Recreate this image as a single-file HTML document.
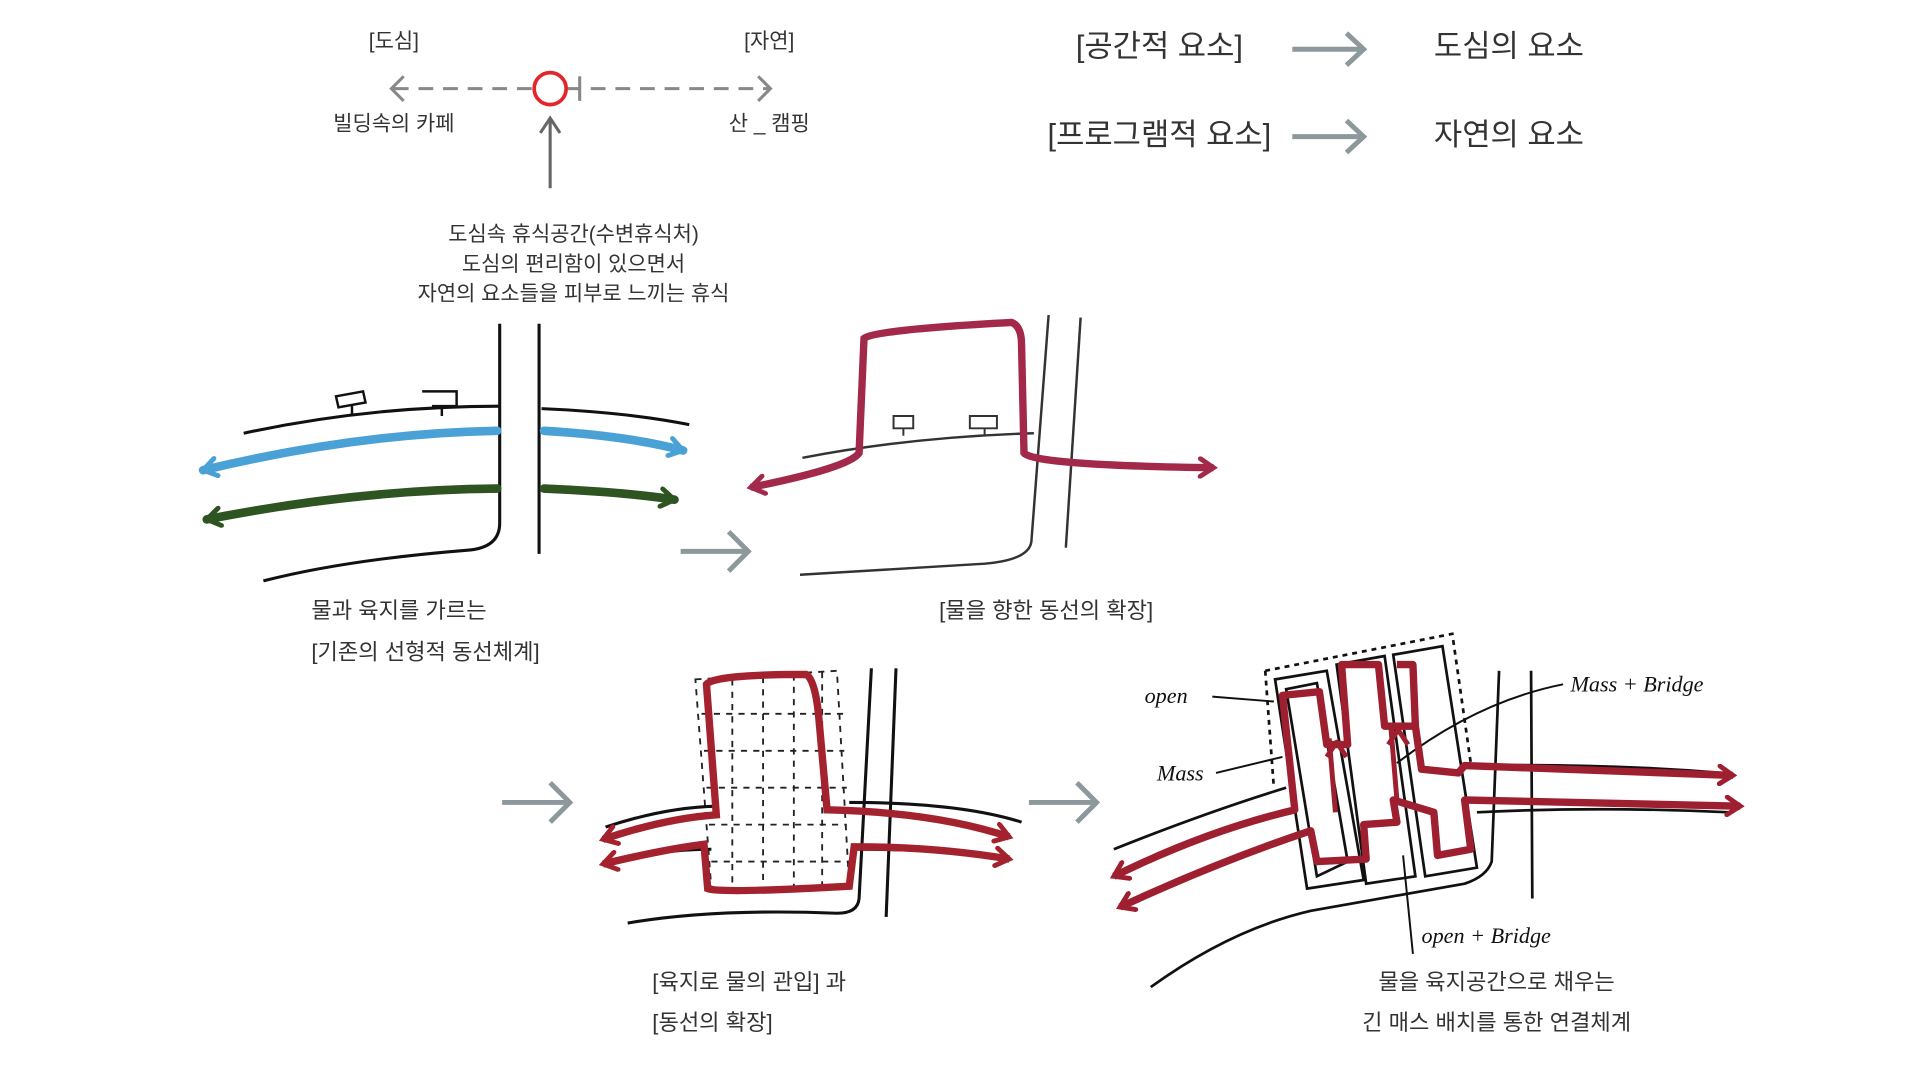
<!DOCTYPE html>
<html><head><meta charset="utf-8"><style>
html,body{margin:0;padding:0;background:#fff;width:1920px;height:1080px;overflow:hidden}
svg{display:block}
text{font-family:"Liberation Sans","Noto Sans CJK KR",sans-serif;fill:#333}
.h{font-family:"Liberation Serif","DejaVu Serif",serif;font-style:italic;fill:#111}
</style></head><body>
<svg width="1920" height="1080" viewBox="0 0 1560 877.5" preserveAspectRatio="none" xmlns="http://www.w3.org/2000/svg">
<defs>
<marker id="ar" viewBox="0 0 10 10" refX="8" refY="5" markerUnits="userSpaceOnUse" markerWidth="18" markerHeight="18" orient="auto-start-reverse"><path d="M2 1L8 5L2 9" fill="none" stroke="context-stroke" stroke-width="2.2" stroke-linecap="round"/></marker>
</defs>
<g font-size="17" text-anchor="middle">
<text x="320" y="39">[도심]</text><text x="625" y="39">[자연]</text>
<text x="320" y="106">빌딩속의 카페</text><text x="625" y="106">산 _ 캠핑</text>
<text x="466" y="196">도심속 휴식공간(수변휴식처)</text>
<text x="466" y="220">도심의 편리함이 있으면서</text>
<text x="466" y="244">자연의 요소들을 피부로 느끼는 휴식</text>
</g>
<g stroke="#888" stroke-width="2.5" fill="none">
<line x1="320" y1="72" x2="626" y2="72" stroke-dasharray="12 8"/>
<path d="M328 62L318 72L328 82M616 62L626 72L616 82"/>
<line x1="471" y1="62" x2="471" y2="82"/>
<path d="M447 153V97M439 108L447 96L455 108" stroke="#666"/>
</g>
<circle cx="447" cy="72" r="13" fill="#fff" stroke="#e3262b" stroke-width="3"/>
<g font-size="25" text-anchor="middle">
<text x="942" y="46">[공간적 요소]</text><text x="1226" y="46">도심의 요소</text>
<text x="942" y="118">[프로그램적 요소]</text><text x="1226" y="118">자연의 요소</text>
</g>
<g stroke="#8c989b" stroke-width="4" fill="none">
<path d="M1050 40H1108M1094 27L1108 40L1094 53"/>
<path d="M1050 111H1108M1094 98L1108 111L1094 124"/>
<path d="M553 448H608M592 432L608 448L592 464"/>
<path d="M408 652H463M447 636L463 652L447 668"/>
<path d="M836 652H891M875 636L891 652L875 668"/>
</g>
<g fill="none" stroke="#111" stroke-width="2.5">
<path d="M406 263V425Q406 445 380 447Q280 455 214 472"/>
<path d="M438 263V450"/>
<path d="M198 352Q300 330 406 330M440 332Q510 335 560 345"/>
<path d="M273 322l22-4l2 9l-22 4zM286 330v8M343 318h28v12h-20M359 330v8" stroke-width="2"/>
</g>
<g fill="none" stroke-linecap="round" stroke-width="7">
<path d="M165 382Q290 352 404 350M442 350Q510 354 555 366" stroke="#4aa1d6" marker-end="url(#ar)" marker-start="url(#ar)"/>
<path d="M168 422Q290 398 404 397M442 397Q510 400 548 406" stroke="#2d5421" marker-end="url(#ar)" marker-start="url(#ar)"/>
</g>
<g font-size="18">
<text x="253" y="502">물과 육지를 가르는</text>
<text x="253" y="536">[기존의 선형적 동선체계]</text>
<text x="850" y="502" text-anchor="middle">[물을 향한 동선의 확장]</text>
<text x="530" y="804">[육지로 물의 관입] 과</text>
<text x="530" y="837">[동선의 확장]</text>
<text x="1216" y="804" text-anchor="middle">물을 육지공간으로 채우는</text>
<text x="1216" y="837" text-anchor="middle">긴 매스 배치를 통한 연결체계</text>
</g>
<g fill="none" stroke="#333" stroke-width="2">
<path d="M652 372Q740 355 840 352"/>
<path d="M852 256L838 440Q836 455 800 458L650 467"/>
<path d="M878 258L866 445"/>
<path d="M726 338h16v10h-16zM734 348v6M788 338h22v10h-22zM800 348v6" stroke-width="1.6"/>
</g>
<path d="M610 396Q690 380 698 368L702 275Q710 268 822 262Q830 265 830 280L832 368Q840 378 986 380" fill="none" stroke="#a3294b" stroke-width="6" marker-start="url(#ar)" marker-end="url(#ar)"/>
<g fill="none" stroke="#222" stroke-width="1.5" stroke-dasharray="5 5">
<path d="M565 552L680 545L690 720L578 722Z"/>
<path d="M570 580H685M572 610H686M574 640H688M576 670H688M578 700H690M595 552V720M620 550V720M645 548V720M668 546V720"/>
</g>
<g fill="none" stroke="#111" stroke-width="2.5">
<path d="M708 543L698 730Q697 742 680 742Q580 738 510 750"/>
<path d="M728 543L720 745"/>
<path d="M492 672Q540 656 582 655M690 652Q780 652 830 668"/>
<path d="M496 700Q540 690 578 690M694 690Q760 690 818 696"/>
</g>
<g fill="none" stroke="#a3222e" stroke-width="6">
<path d="M490 682Q540 665 582 662L574 556Q580 548 655 548Q662 552 665 580L672 658Q760 660 820 680" marker-start="url(#ar)" marker-end="url(#ar)"/>
<path d="M490 702Q540 690 572 686L575 722Q585 726 690 720L694 688Q760 688 820 698" marker-start="url(#ar)" marker-end="url(#ar)"/>
</g>
<g fill="none" stroke="#111" stroke-width="2.2">
<path d="M1028 545L1180 515L1195 620" stroke-dasharray="4 4"/>
<path d="M1028 545L1035 640" stroke-dasharray="4 4"/>
<path d="M1036 552L1078 545L1108 715L1062 722Z"/>
<path d="M1086 540L1125 533L1150 712L1110 718Z"/>
<path d="M1132 532L1172 525L1200 705L1158 712Z"/>
<path d="M1045 560L1070 555L1095 700L1070 712Z"/>
<path d="M1218 545L1212 700Q1208 712 1190 718L1065 740Q1000 755 935 802"/>
<path d="M1244 545L1245 730"/>
<path d="M905 690Q980 660 1045 640M1195 622Q1300 620 1400 628"/>
<path d="M912 735Q990 700 1050 680M1200 660Q1300 655 1405 660"/>
<path d="M985 566L1035 570M988 628L1042 615M1135 620Q1200 570 1270 556M1140 695L1148 775" stroke-width="1.6"/>
</g>
<g fill="none" stroke="#9e1f2f" stroke-width="6" stroke-linejoin="round">
<path d="M905 712Q980 675 1052 658L1042 565L1072 562L1078 605L1095 605L1090 540L1120 540L1125 590L1150 590L1148 540L1135 540M1150 590L1155 625L1185 628L1190 622L1408 630" marker-start="url(#ar)" marker-end="url(#ar)"/>
<path d="M910 737Q990 700 1065 675L1070 700L1110 698L1108 670L1135 668L1132 650L1165 660L1168 695L1195 690L1190 650L1414 655" marker-start="url(#ar)" marker-end="url(#ar)"/>
<path d="M1080 600L1085 660M1130 590L1135 650M1078 615l8-12l8 12M1128 605l8-12l8 12" stroke-width="4"/>
</g>
<g font-size="18">
<text x="930" y="571" class="h">open</text>
<text x="940" y="634" class="h">Mass</text>
<text x="1276" y="562" class="h">Mass + Bridge</text>
<text x="1155" y="766" class="h">open + Bridge</text>
</g>
</svg>
</body></html>
